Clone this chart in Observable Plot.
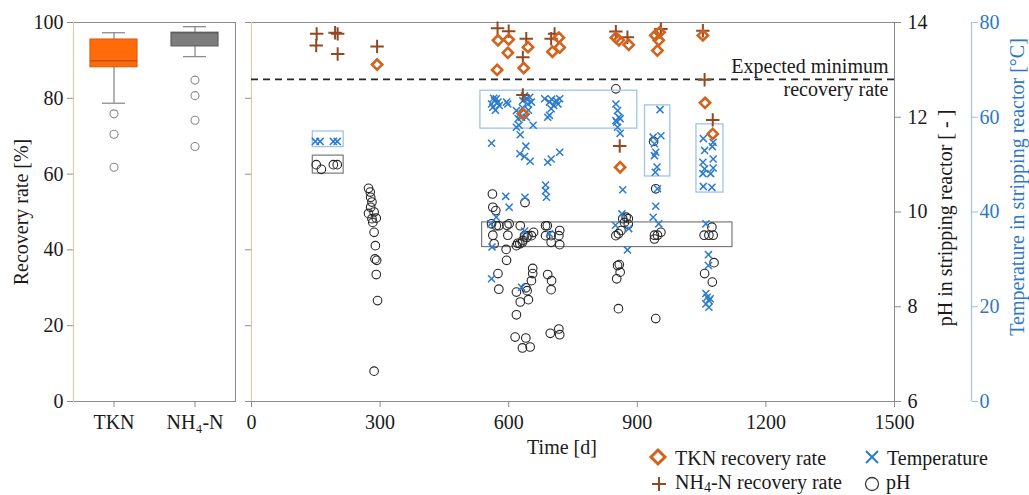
<!DOCTYPE html>
<html><head><meta charset="utf-8">
<script src="https://cdn.jsdelivr.net/npm/d3@7"></script>
<script src="https://cdn.jsdelivr.net/npm/@observablehq/plot@0.6"></script>
<style>
body{margin:0;background:#fff;}
#wrap{position:relative;width:1029px;height:495px;overflow:hidden;background:#fff;}
#wrap svg{position:absolute;left:0;top:0;}
</style></head><body><div id="wrap"></div>
<script>
// ---------- data ----------
const timeTicks = [0, 300, 600, 900, 1200, 1500];
const recoveryTicks = [0, 20, 40, 60, 80, 100];
const phTicks = [6, 8, 10, 12, 14];
const tempTicks = [0, 20, 40, 60, 80];
const expectedMinimum = 85;
const expectedLabel = ["Expected minimum", "recovery rate"];

// box plot summary (recovery rate, %)
const boxCats = ["TKN", "NH₄-N"];
const boxQ1 = [88.2, 93.7];
const boxMedian = [89.9, 97.3];
const boxQ3 = [95.5, 97.3];
const boxLo = [78.7, 91.0];
const boxHi = [97.3, 98.9];
const outlierCat = ["TKN", "TKN", "TKN", "NH₄-N", "NH₄-N", "NH₄-N", "NH₄-N"];
const outlierVal = [75.9, 70.5, 61.8, 84.8, 80.7, 74.2, 67.3];

// TKN recovery rate vs time
const tknTime = [293, 575, 600, 598, 573, 645, 635, 702, 717, 719, 633, 850, 857, 880, 860, 942, 952, 950, 947, 1053, 1058, 1076];
const tknRate = [88.9, 95.3, 95.5, 92.0, 87.5, 93.5, 88.0, 92.3, 96.0, 93.4, 75.9, 96.0, 95.3, 94.1, 61.8, 96.6, 97.4, 95.3, 92.6, 96.6, 78.8, 70.6];

// NH4-N recovery rate vs time
const nh4Time = [152, 151, 195, 201, 201, 293, 574, 600, 641, 633, 633, 707, 699, 850, 877, 859, 955, 1053, 1057, 1076];
const nh4Rate = [97.0, 93.9, 97.3, 97.0, 91.7, 93.7, 98.5, 97.7, 95.7, 90.8, 80.9, 97.0, 95.7, 97.6, 96.1, 67.4, 98.3, 97.8, 84.9, 74.3];

// pH in stripping reactor vs time
const phTime = [151, 163, 191, 200,
  273, 277, 278, 281, 278, 286, 273, 291, 281, 283, 286, 289, 288, 292, 291, 294, 286,
  562, 563, 570, 638, 560, 571, 577, 596, 601, 563, 598, 566, 594, 595, 575, 577,
  627, 618, 626, 632, 637, 645, 653, 658, 686, 690, 686, 699, 699, 719, 717, 719,
  656, 656, 653, 640, 643, 646, 627, 618, 618, 615, 640, 632, 650, 691, 700, 699, 697, 717, 719,
  621, 633, 642,
  850, 850, 856, 862, 866, 879, 879, 874, 870, 854, 858, 860, 852, 856,
  938, 943, 940, 947, 955, 940, 943,
  1056, 1067, 1077, 1074, 1079, 1057, 1075];
const phValue = [11.0, 10.9, 11.0, 11.0,
  10.50, 10.42, 10.31, 10.21, 10.10, 10.00, 9.97, 9.87, 9.86, 9.78, 9.57, 9.29, 9.01, 8.98, 8.68, 8.13, 6.64,
  10.38, 10.10, 10.03, 10.20, 9.75, 9.71, 9.71, 9.72, 9.75, 9.51, 9.51, 9.33, 9.21, 8.98, 8.70, 8.37,
  9.71, 9.29, 9.33, 9.36, 9.50, 9.50, 9.50, 9.57, 9.71, 9.71, 9.50, 9.50, 9.36, 9.61, 9.50, 9.31,
  8.81, 8.70, 8.55, 8.40, 8.34, 8.15, 8.10, 8.31, 7.83, 7.36, 7.34, 7.13, 7.15, 8.68, 8.55, 8.36, 7.44, 7.53, 7.41,
  9.34, 9.40, 9.46,
  12.60, 9.50, 9.54, 9.61, 9.86, 9.86, 9.74, 9.89, 9.78, 8.87, 8.89, 8.73, 8.59, 7.96,
  11.49, 10.49, 9.51, 9.51, 9.57, 9.43, 7.75,
  9.51, 9.51, 9.51, 9.68, 8.93, 8.70, 8.52];

// temperature in stripping reactor vs time
const tempTime = [149, 160, 191, 200,
  560, 567, 571, 575, 563, 595, 598, 618, 626, 622, 630, 633, 641, 649, 653, 645, 641, 618, 624, 657, 627,
  684, 695, 699, 711, 715, 719, 691, 695, 565, 578, 569, 632, 637, 646, 700, 705,
  560, 640, 626, 637, 650, 691, 699, 719, 686, 686, 688, 593, 601, 638, 571, 558, 561, 560, 630, 637, 695,
  850, 854, 857, 850, 860, 852, 854, 860, 866, 864, 849, 880, 877,
  953, 955, 937, 940, 943, 940, 946, 942, 947, 943, 937, 950,
  1054, 1077, 1075, 1057, 1077, 1053, 1077, 1057, 1053, 1071, 1054, 1074,
  1060, 1066, 1066, 1063, 1067, 1060, 1067, 1060, 1070];
const tempValue = [54.9, 54.9, 54.9, 54.9,
  62.8, 63.5, 63.9, 63.2, 62.1, 63.2, 62.8, 61.4, 60.7, 59.7, 60.0, 63.5, 63.9, 64.2, 63.2, 62.8, 60.0, 57.9, 58.3, 58.3, 56.3,
  63.9, 63.2, 61.8, 63.5, 62.8, 63.9, 60.0, 60.4, 64.0, 62.5, 61.5, 62.0, 64.5, 61.5, 63.8, 62.5,
  54.5, 53.9, 52.3, 51.7, 50.7, 50.5, 51.2, 52.6, 45.7, 44.5, 43.1, 43.3, 41.0, 43.1, 38.9, 37.5, 32.6, 25.9, 24.1, 36.0, 35.4,
  62.8, 61.4, 60.0, 59.3, 59.7, 59.0, 57.9, 56.6, 44.7, 39.6, 37.2, 36.5, 32.0,
  61.6, 56.1, 55.8, 54.4, 52.6, 51.9, 49.5, 48.4, 44.9, 41.2, 38.9, 37.5,
  55.5, 54.7, 53.8, 53.0, 51.2, 50.5, 49.3, 49.1, 48.1, 48.1, 45.4, 45.2,
  37.5, 31.0, 28.7, 22.0, 21.3, 20.6, 19.9, 22.8, 21.7];

// highlighted clusters: pH boxes (time from/to, pH from/to) and temperature boxes (time, °C)
const phBoxStart = [143, 538];
const phBoxEnd = [215, 1122];
const phBoxLow = [10.81, 9.26];
const phBoxHigh = [11.19, 9.78];
const tempBoxStart = [143, 534, 918, 1038];
const tempBoxEnd = [215, 900, 977, 1101];
const tempBoxLow = [53.7, 57.6, 47.5, 44.1];
const tempBoxHigh = [57.0, 65.6, 62.5, 58.5];

// ---------- build ----------
const W = 1029, H = 470, ML = 251, MR = 135, MT = 22, MB = 69;
const FONT = "'Liberation Serif','Times New Roman',serif";
const GRAY = "#8c8c8c", PEACH = "#f5c199";
const TKN_C = "#d4621c", NH4_C = "#8f4a24", TEMP_C = "#2b7bd0", TEMP_AX = "#9dc3e6", TEMP_TXT = "#2e78c4";
const svgStyle = {background: "transparent", fontFamily: FONT, fontSize: "20px", color: "#1a1a1a", overflow: "visible", maxWidth: "none"};

const boxData = boxCats.map((c, i) => ({c, q1: boxQ1[i], med: boxMedian[i], q3: boxQ3[i], lo: boxLo[i], hi: boxHi[i]}));
const outliers = outlierCat.map((c, i) => ({c, v: outlierVal[i]}));
const tkn = tknTime.map((t, i) => ({t, v: tknRate[i]}));
const nh4 = nh4Time.map((t, i) => ({t, v: nh4Rate[i]}));
const ph = phTime.map((t, i) => ({t, v: phValue[i]}));
const temp = tempTime.map((t, i) => ({t, v: tempValue[i]}));
const phBoxes = phBoxStart.map((t1, i) => ({t1, t2: phBoxEnd[i], lo: phBoxLow[i], hi: phBoxHigh[i]}));
const tempBoxes = tempBoxStart.map((t1, i) => ({t1, t2: tempBoxEnd[i], lo: tempBoxLow[i], hi: tempBoxHigh[i]}));

const wrap = document.getElementById("wrap");

// A: box plot
const plotA = Plot.plot({
  width: 245, height: H, marginLeft: 73, marginRight: 10, marginTop: MT, marginBottom: MB,
  style: svgStyle,
  x: {type: "band", domain: boxCats, paddingInner: 0.42, paddingOuter: 0.21, axis: null},
  y: {domain: [0, 100], axis: null},
  color: {type: "identity"},
  marks: [
    Plot.frame({anchor: "top", stroke: GRAY}),
    Plot.frame({anchor: "right", stroke: GRAY}),
    Plot.frame({anchor: "bottom", stroke: GRAY}),
    Plot.frame({anchor: "left", stroke: PEACH}),
    Plot.ruleX(boxData, {x: "c", y1: "lo", y2: "hi", stroke: GRAY, strokeWidth: 1.3}),
    Plot.tickY(boxData, {x: "c", y: "hi", insetLeft: 12, insetRight: 12, stroke: GRAY, strokeWidth: 1.3}),
    Plot.tickY(boxData, {x: "c", y: "lo", insetLeft: 12, insetRight: 12, stroke: GRAY, strokeWidth: 1.3}),
    Plot.barY(boxData, {x: "c", y1: "q1", y2: "q3", fill: d => d.c === "TKN" ? "#ff6a0a" : "#7d7d7d",
      stroke: d => d.c === "TKN" ? "#d9600f" : "#5e5e5e", strokeWidth: 1.2}),
    Plot.tickY(boxData, {x: "c", y: "med", stroke: d => d.c === "TKN" ? "#c0520c" : "#5e5e5e", strokeWidth: 1.5}),
    Plot.dot(outliers, {x: "c", y: "v", r: 4, stroke: "#8a8a8a", fill: "white", strokeWidth: 1.1}),
    Plot.axisY({ticks: recoveryTicks, tickSize: 6, tickPadding: 4, stroke: GRAY, fill: "#1a1a1a",
      label: "Recovery rate [%]", labelAnchor: "center", labelOffset: 60, labelArrow: "none"}),
    Plot.axisX({tickSize: 6, tickPadding: 7, stroke: GRAY, fill: "#1a1a1a", label: null})
  ]
});

// C: pH layer
const plotC = Plot.plot({
  width: W, height: H, marginLeft: ML, marginRight: MR, marginTop: MT, marginBottom: MB,
  style: svgStyle,
  x: {domain: [0, 1500], axis: null},
  y: {domain: [6, 14], axis: null},
  marks: [
    Plot.rect(phBoxes, {x1: "t1", x2: "t2", y1: "lo", y2: "hi", fill: "none", stroke: "#7a7a7a", strokeWidth: 1.2}),
    Plot.dot(ph, {x: "t", y: "v", r: 4.3, stroke: "#262626", strokeWidth: 1.1, fill: "none"}),
    Plot.axisY({anchor: "right", ticks: phTicks, tickSize: 6, tickPadding: 7, stroke: GRAY, fill: "#1a1a1a", label: null}),
    Plot.text(["pH in stripping reactor [ - ]"], {frameAnchor: "right", text: d => d, rotate: -90, lineAnchor: "bottom",
      textAnchor: "middle", dx: 57, dy: 6, fill: "#1a1a1a", fontSize: 20})
  ]
});

// D: temperature layer
const plotD = Plot.plot({
  width: W, height: H, marginLeft: ML, marginRight: MR, marginTop: MT, marginBottom: MB,
  style: svgStyle,
  x: {domain: [0, 1500], axis: null},
  y: {domain: [0, 80], axis: null},
  marks: [
    Plot.rect(tempBoxes, {x1: "t1", x2: "t2", y1: "lo", y2: "hi", fill: "none", stroke: TEMP_AX, strokeWidth: 1.3}),
    Plot.dot(temp, {x: "t", y: "v", symbol: "times", r: 3.3, stroke: TEMP_C, strokeWidth: 1.5})
  ]
});

// E: temperature axis (offset to the right)
const plotE = Plot.plot({
  width: W, height: H, marginLeft: 900, marginRight: 58, marginTop: MT, marginBottom: MB,
  style: svgStyle,
  x: {domain: [0, 1], axis: null},
  y: {domain: [0, 80], axis: null},
  marks: [
    Plot.ruleX([1], {stroke: TEMP_AX, strokeWidth: 1.2}),
    Plot.axisY({anchor: "right", ticks: tempTicks, tickSize: 6, tickPadding: 2, stroke: TEMP_AX, fill: TEMP_TXT, label: null}),
    Plot.text(["Temperature in stripping reactor [°C]"], {frameAnchor: "right", text: d => d, rotate: -90, lineAnchor: "bottom",
      textAnchor: "middle", dx: 52, dy: -25, fill: TEMP_TXT, fontSize: 20})
  ]
});

// B: recovery layer with frame and time axis
const plotB = Plot.plot({
  width: W, height: H, marginLeft: ML, marginRight: MR, marginTop: MT, marginBottom: MB,
  style: svgStyle,
  x: {domain: [0, 1500], axis: null},
  y: {domain: [0, 100], axis: null},
  marks: [
    Plot.frame({anchor: "top", stroke: GRAY}),
    Plot.frame({anchor: "right", stroke: GRAY}),
    Plot.frame({anchor: "bottom", stroke: GRAY}),
    Plot.frame({anchor: "left", stroke: PEACH}),
    Plot.axisY({ticks: recoveryTicks, tickSize: 6, stroke: GRAY, tickFormat: () => "", label: null}),
    Plot.axisX({ticks: timeTicks, tickSize: 6, tickPadding: 7, stroke: GRAY, fill: "#1a1a1a", tickFormat: d => String(d), label: null}),
    Plot.text(["Time [d]"], {frameAnchor: "bottom", text: d => d, lineAnchor: "bottom", dx: -11, dy: 52, fill: "#1a1a1a", fontSize: 20}),
    Plot.ruleY([expectedMinimum], {stroke: "#262626", strokeWidth: 1.6, strokeDasharray: "7,5"}),
    Plot.text([expectedLabel[0]], {x: 1500, y: expectedMinimum, text: d => d, textAnchor: "end", dx: -6, dy: -13, fill: "#1a1a1a", fontSize: 20}),
    Plot.text([expectedLabel[1]], {x: 1500, y: expectedMinimum, text: d => d, textAnchor: "end", dx: -6, dy: 10, fill: "#1a1a1a", fontSize: 20}),
    Plot.dot(nh4, {x: "t", y: "v", symbol: "plus", r: 4.4, stroke: NH4_C, strokeWidth: 2}),
    Plot.dot(tkn, {x: "t", y: "v", symbol: "diamond2", r: 4.6, stroke: TKN_C, strokeWidth: 2.6})
  ]
});

for (const p of [plotA, plotC, plotD, plotE, plotB]) wrap.appendChild(p);

// legend (below the chart)
const ns = "http://www.w3.org/2000/svg";
const leg = document.createElementNS(ns, "svg");
leg.setAttribute("width", W); leg.setAttribute("height", 495);
leg.style.fontFamily = FONT; leg.style.fontSize = "20px";
leg.innerHTML = `
  <path d="M658,450 L665,457 L658,464 L651,457 Z" fill="none" stroke="${TKN_C}" stroke-width="3"/>
  <text x="675" y="465" fill="#1a1a1a">TKN recovery rate</text>
  <path d="M866,451 L878,463 M878,451 L866,463" stroke="${TEMP_C}" stroke-width="2"/>
  <text x="887" y="465" fill="#1a1a1a">Temperature</text>
  <path d="M652,484 L666,484 M659,477 L659,491" stroke="${NH4_C}" stroke-width="2"/>
  <text x="675" y="489" fill="#1a1a1a">NH<tspan font-size="14" dy="3">4</tspan><tspan dy="-3">-N recovery rate</tspan></text>
  <circle cx="872" cy="484" r="6.5" fill="none" stroke="#3a3a3a" stroke-width="1.3"/>
  <text x="886" y="489" fill="#1a1a1a">pH</text>`;
wrap.appendChild(leg);
</script>
</body></html>
